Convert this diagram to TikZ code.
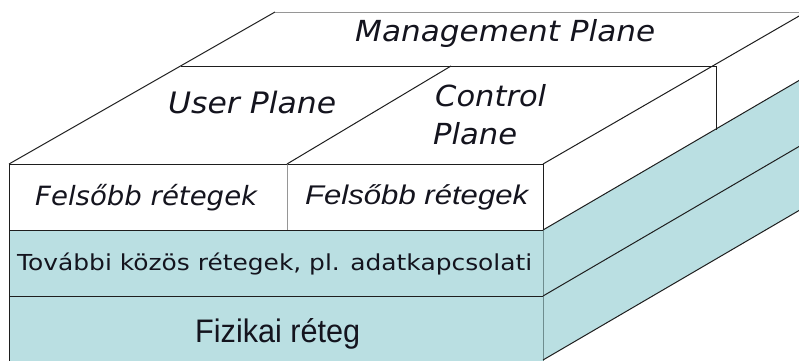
\documentclass[tikz,border=0pt]{standalone}
\usepackage{fontspec}
\usepackage{graphicx}
\newfontfamily\vfont{DejaVu Sans}
\newfontfamily\afont{Liberation Sans}
\definecolor{layerteal}{RGB}{186,223,226}
\definecolor{edgedark}{RGB}{30,30,30}
\definecolor{edgegray}{RGB}{150,150,150}
\definecolor{edgeteal}{RGB}{110,140,142}
\definecolor{textdark}{RGB}{20,20,30}
\newcommand{\fitw}[3]{\resizebox{#1pt}{\height}{\fontsize{#2}{#2}\selectfont #3}}
\begin{document}
\begin{tikzpicture}[x=1pt,y=-1pt,
  edge/.style={draw=edgedark,line width=1pt},
  softedge/.style={draw=edgegray,line width=1pt},
  tealedge/.style={draw=edgeteal,line width=1pt},
  lbl/.style={inner sep=0pt,anchor=base west,text=textdark}]
\useasboundingbox (0,0) rectangle (799,360);
\clip (0,0) rectangle (799,360);
% fills
\fill[white] (0,0) rectangle (799,360);
\fill[layerteal] (9,230) rectangle (543,365);
\fill[layerteal] (543,230) -- (812,72.9) -- (812,202.9) -- (543,360) -- (543,365) -- cycle;
% front face
\draw[edge] (9,365) -- (9,164) -- (543,164) -- (543,230);
\draw[tealedge] (543,230) -- (543,365);
\draw[edge] (9,230) -- (543,230);
\draw[edge] (9,296) -- (543,296);
\draw[softedge] (287,164) -- (287,230);
% top face
\draw[edge] (9,164) -- (275,12);
\draw[softedge] (275,12) -- (812,12);
\draw[edge] (543,164) -- (806,12);
\draw[edge] (181,66) -- (716,66) -- (716,129.8);
\draw[edge] (287,164) -- (451,66);
% side face
\draw[edge] (543,230) -- (812,72.9);
\draw[edge] (543,296) -- (812,138.9);
\draw[edge] (543,360) -- (812,202.9);
% labels
\node[lbl] (mgmt) at (355,41.7) {\fitw{300}{29}{\vfont\itshape Management Plane}};
\node[lbl] (user) at (168,113) {\fitw{168}{29.5}{\vfont\itshape User Plane}};
\node[lbl] (ctrl1) at (435,106.7) {\fitw{111}{29}{\vfont\itshape Control}};
\node[lbl] (ctrl2) at (433,144) {\fitw{84}{29}{\vfont\itshape Plane}};
\node[lbl] (felsoL) at (35,205) {\fitw{222}{26.5}{\vfont\itshape Felsőbb rétegek}};
\node[lbl] (felsoR) at (305,204.3) {\fitw{223}{27}{\afont\itshape Felsőbb rétegek}};
\node[lbl] (tovabbi) at (17,270) {\fitw{515}{22}{\vfont További közös rétegek, pl. adatkapcsolati}};
\node[lbl] (fizikai) at (195,342) {\fitw{165}{32.6}{\afont Fizikai réteg}};
\end{tikzpicture}
\end{document}
